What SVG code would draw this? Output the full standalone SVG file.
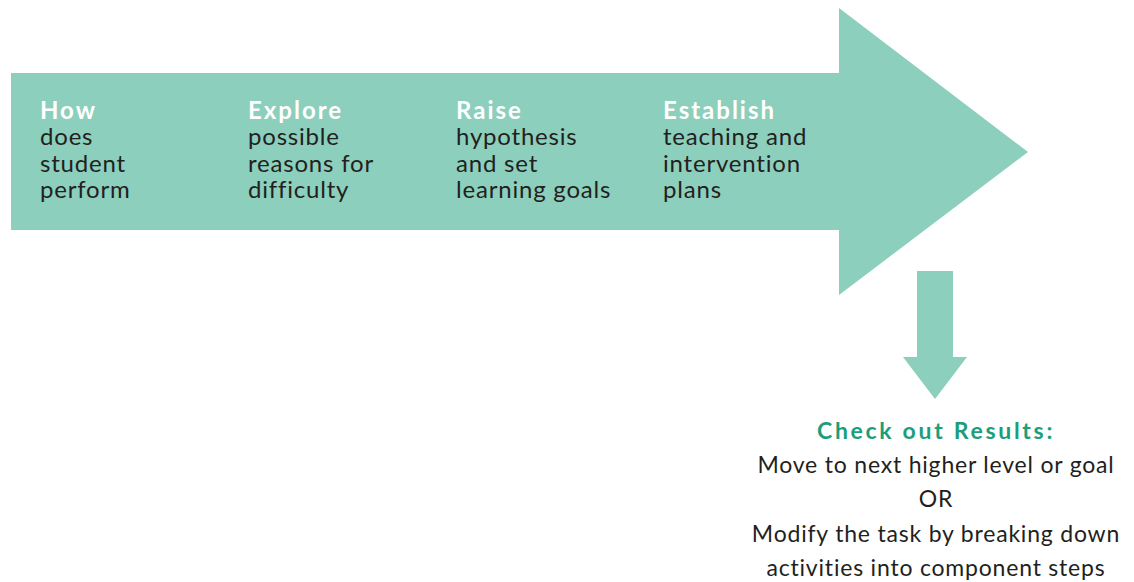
<svg xmlns="http://www.w3.org/2000/svg" width="1134" height="582" viewBox="0 0 1134 582">
<style>
.shape{fill:#8bcfbc}
.t{font-family:Lato,"Liberation Sans",sans-serif;font-size:24px;letter-spacing:0.8px;fill:#231f20}
.h{font-weight:bold;fill:#ffffff;letter-spacing:2px}
.c{font-family:Lato,"Liberation Sans",sans-serif;font-size:23px;letter-spacing:0.8px;fill:#231f20;text-anchor:middle}
.g{font-weight:bold;fill:#1b9e79;letter-spacing:2.7px}
</style>
<rect width="1134" height="582" fill="#ffffff"/>
<g id="main-arrow">
<polygon class="shape" points="11,73 839,73 839,8 1028,152 839,295 839,230 11,230"/>
</g>
<g id="step-how">
<text class="t" x="40" y="119"><tspan class="h">How</tspan><tspan x="40" y="145">does</tspan><tspan x="40" y="172">student</tspan><tspan x="40" y="198">perform</tspan></text>
</g>
<g id="step-explore">
<text class="t" x="248" y="119"><tspan class="h">Explore</tspan><tspan x="248" y="145">possible</tspan><tspan x="248" y="172">reasons for</tspan><tspan x="248" y="198">difficulty</tspan></text>
</g>
<g id="step-raise">
<text class="t" x="456" y="119"><tspan class="h">Raise</tspan><tspan x="456" y="145">hypothesis</tspan><tspan x="456" y="172">and set</tspan><tspan x="456" y="198">learning goals</tspan></text>
</g>
<g id="step-establish">
<text class="t" x="663" y="119"><tspan class="h">Establish</tspan><tspan x="663" y="145">teaching and</tspan><tspan x="663" y="172">intervention</tspan><tspan x="663" y="198">plans</tspan></text>
</g>
<g id="connectors">
<polygon class="shape" points="917,271 953,271 953,357 967,357 935,399 903,357 917,357"/>
</g>
<g id="results">
<text class="c" x="936" y="439"><tspan class="g">Check out Results:</tspan><tspan x="936" y="473">Move to next higher level or goal</tspan><tspan x="936" y="507">OR</tspan><tspan x="936" y="542">Modify the task by breaking down</tspan><tspan x="936" y="576">activities into component steps</tspan></text>
</g>
</svg>
